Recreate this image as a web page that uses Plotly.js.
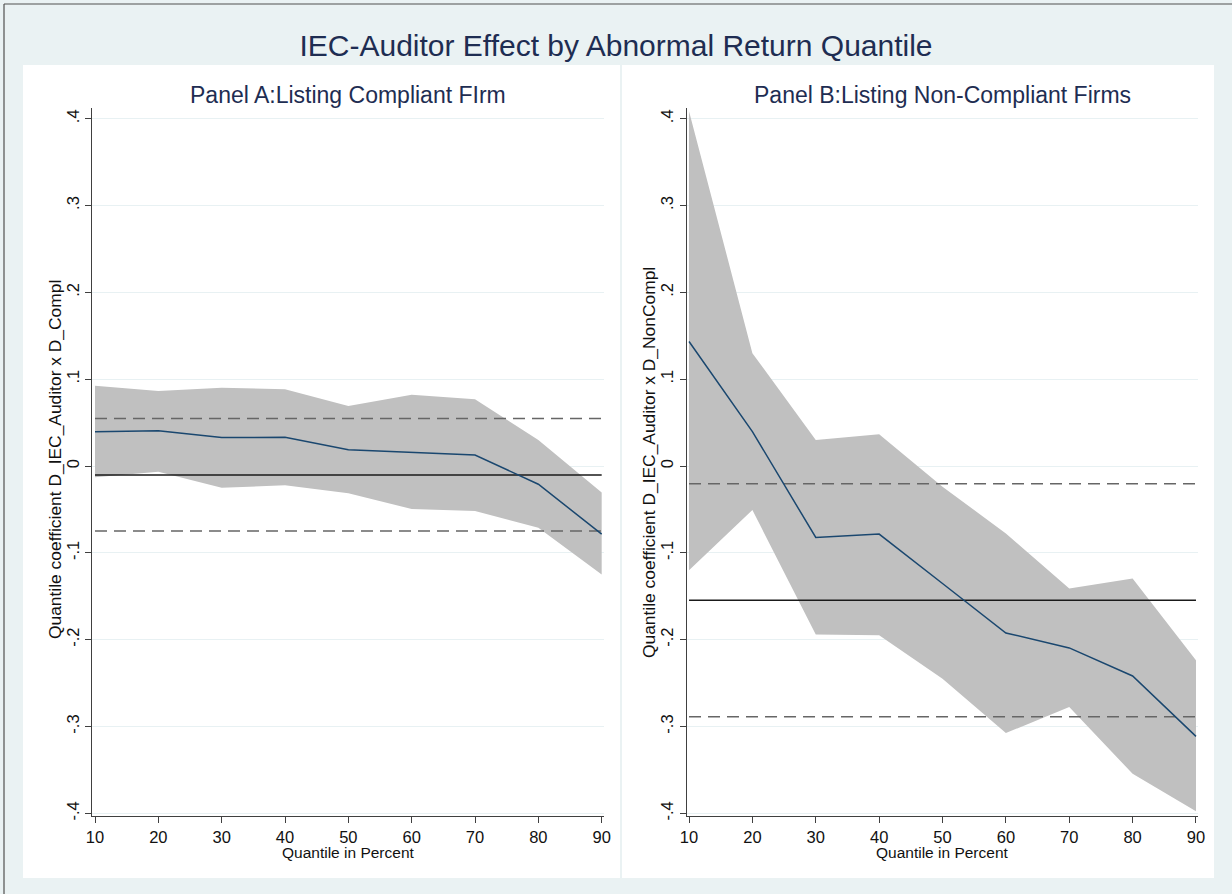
<!DOCTYPE html>
<html>
<head>
<meta charset="utf-8">
<script src="https://cdn.plot.ly/plotly-3.0.1.min.js"></script>
<style>html,body{margin:0;padding:0;background:#eaf2f3;}#chart{width:1232px;height:894px;}</style>
</head>
<body>
<div id="chart"></div>
<script>
// ---- data ----
const quantiles = [10, 20, 30, 40, 50, 60, 70, 80, 90];

const coefA  = [0.0396, 0.0407, 0.0327, 0.0330, 0.0188, 0.0160, 0.0127, -0.0210, -0.0784];
const upperA = [0.0923, 0.0865, 0.0900, 0.0885, 0.0690, 0.0822, 0.0769, 0.0300, -0.0304];
const lowerA = [-0.0130, -0.0065, -0.0250, -0.0223, -0.0315, -0.0496, -0.0519, -0.0710, -0.1250];
const olsA = -0.0104, olsLowA = -0.0750, olsHighA = 0.0546;

const coefB  = [0.1434, 0.0396, -0.0823, -0.0784, -0.1353, -0.1923, -0.2095, -0.2418, -0.3114];
const upperB = [0.4087, 0.1300, 0.0300, 0.0365, -0.0238, -0.0777, -0.1410, -0.1296, -0.2238];
const lowerB = [-0.1200, -0.0507, -0.1940, -0.1950, -0.2450, -0.3076, -0.2776, -0.3545, -0.3976];
const olsB = -0.1546, olsLowB = -0.2887, olsHighB = -0.0204;

const yTickVals = [-0.4, -0.3, -0.2, -0.1, 0, 0.1, 0.2, 0.3, 0.4];
const yTickText = ['-.4', '-.3', '-.2', '-.1', '0', '.1', '.2', '.3', '.4'];

const mainTitle = 'IEC-Auditor Effect by Abnormal Return Quantile';
const panelTitleA = 'Panel A:Listing Compliant FIrm';
const panelTitleB = 'Panel B:Listing Non-Compliant Firms';
const yTitleA = 'Quantile coefficient D_IEC_Auditor x D_Compl';
const yTitleB = 'Quantile coefficient D_IEC_Auditor x D_NonCompl';
const xTitle = 'Quantile in Percent';

// ---- helpers ----
const W = 1232, H = 894;
const px = v => v / W;
const py = v => 1 - v / H;
const FONT = 'Liberation Sans, Arial, sans-serif';
const BAND = '#c0c0c0';
const NAVY = '#1a476f';
const xEnds = [quantiles[0], quantiles[quantiles.length - 1]];

function panelTraces(xa, ya, coef, upper, lower, ols, olsLow, olsHigh) {
  return [
    {x: quantiles, y: lower, xaxis: xa, yaxis: ya, mode: 'lines', line: {width: 0, color: BAND}, hoverinfo: 'skip', showlegend: false},
    {x: quantiles, y: upper, xaxis: xa, yaxis: ya, mode: 'lines', line: {width: 0, color: BAND}, fill: 'tonexty', fillcolor: BAND, showlegend: false},
    {x: xEnds, y: [olsHigh, olsHigh], xaxis: xa, yaxis: ya, mode: 'lines', line: {color: '#666666', width: 1.5, dash: '12px,7px'}, showlegend: false},
    {x: xEnds, y: [olsLow, olsLow], xaxis: xa, yaxis: ya, mode: 'lines', line: {color: '#666666', width: 1.5, dash: '12px,7px'}, showlegend: false},
    {x: xEnds, y: [ols, ols], xaxis: xa, yaxis: ya, mode: 'lines', line: {color: '#1a1a1a', width: 1.5}, showlegend: false},
    {x: quantiles, y: coef, xaxis: xa, yaxis: ya, mode: 'lines', line: {color: NAVY, width: 1.5}, showlegend: false}
  ];
}

const data = [].concat(
  panelTraces('x', 'y', coefA, upperA, lowerA, olsA, olsLowA, olsHighA),
  panelTraces('x2', 'y2', coefB, upperB, lowerB, olsB, olsLowB, olsHighB)
);

const xRange = [9.6, 90.35];
const yRange = [-0.403, 0.412];
const yDomain = [py(815.9), py(108.3)];

function xAxis(domain, anchor) {
  return {
    domain: domain, anchor: anchor, range: xRange, tickmode: 'array', tickvals: quantiles,
    ticks: 'outside', ticklen: 6, tickcolor: '#404040', tickwidth: 1,
    showline: true, linecolor: '#404040', linewidth: 1, showgrid: false, zeroline: false,
    tickfont: {family: FONT, size: 16.5, color: '#111'}
  };
}
function yAxis(anchor) {
  return {
    domain: yDomain, anchor: anchor, range: yRange, tickmode: 'array', tickvals: yTickVals, ticktext: yTickText,
    tickangle: -90, ticks: 'outside', ticklen: 6, tickcolor: '#404040', tickwidth: 1,
    showline: true, linecolor: '#404040', linewidth: 1, showgrid: true, gridcolor: '#e8f1f3', gridwidth: 1, zeroline: false,
    tickfont: {family: FONT, size: 16.5, color: '#111'}
  };
}

const axisTitleFont = {family: FONT, size: 17.4, color: '#111'};
const xTitleFont = {family: FONT, size: 15.5, color: '#111'};
const panelFont = {family: FONT, size: 23, color: '#1e2d52'};

const layout = {
  width: W, height: H,
  margin: {l: 0, r: 0, t: 0, b: 0},
  paper_bgcolor: '#eaf2f3', plot_bgcolor: '#ffffff',
  showlegend: false,
  title: {text: mainTitle, x: 0.5, xanchor: 'center', y: py(45), yanchor: 'middle',
          font: {family: FONT, size: 30, color: '#1e2d52'}},
  xaxis: xAxis([px(92.47), px(603.9)], 'y'),
  yaxis: yAxis('x'),
  xaxis2: xAxis([px(686.5), px(1198.2)], 'y2'),
  yaxis2: yAxis('x2'),
  shapes: [
    {type: 'rect', xref: 'paper', yref: 'paper', x0: px(23), x1: px(620), y0: py(878), y1: py(65), fillcolor: '#ffffff', line: {width: 0}, layer: 'below'},
    {type: 'rect', xref: 'paper', yref: 'paper', x0: px(622), x1: px(1214), y0: py(878), y1: py(65), fillcolor: '#ffffff', line: {width: 0}, layer: 'below'},
    {type: 'line', xref: 'paper', yref: 'paper', x0: px(4), x1: px(4), y0: 0, y1: py(4), line: {color: '#505050', width: 1.2}},
    {type: 'line', xref: 'paper', yref: 'paper', x0: px(4), x1: 1, y0: py(4), y1: py(4), line: {color: '#505050', width: 1.2}}
  ],
  annotations: [
    {text: panelTitleA, xref: 'paper', yref: 'paper', x: px(348), y: py(95), xanchor: 'center', yanchor: 'middle', showarrow: false, font: panelFont},
    {text: panelTitleB, xref: 'paper', yref: 'paper', x: px(942), y: py(95), xanchor: 'center', yanchor: 'middle', showarrow: false, font: panelFont},
    {text: yTitleA, xref: 'paper', yref: 'paper', x: px(55), y: py(460), xanchor: 'center', yanchor: 'middle', textangle: -90, showarrow: false, font: axisTitleFont},
    {text: yTitleB, xref: 'paper', yref: 'paper', x: px(649), y: py(463), xanchor: 'center', yanchor: 'middle', textangle: -90, showarrow: false, font: axisTitleFont},
    {text: xTitle, xref: 'paper', yref: 'paper', x: px(348), y: py(852), xanchor: 'center', yanchor: 'middle', showarrow: false, font: xTitleFont},
    {text: xTitle, xref: 'paper', yref: 'paper', x: px(942), y: py(852), xanchor: 'center', yanchor: 'middle', showarrow: false, font: xTitleFont}
  ]
};

Plotly.newPlot('chart', data, layout, {displayModeBar: false, staticPlot: true});
</script>
</body>
</html>
